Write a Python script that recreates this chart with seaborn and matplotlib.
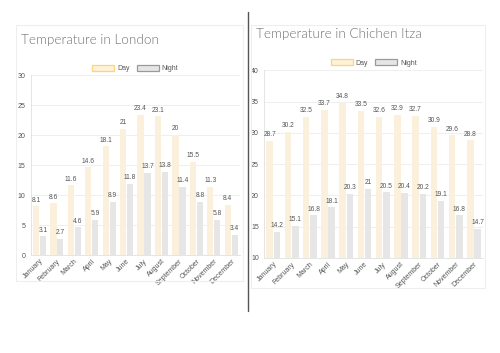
import numpy as np
import matplotlib
matplotlib.use("Agg")
import matplotlib.pyplot as plt
from matplotlib.patches import Patch, Rectangle
from matplotlib.lines import Line2D
import pandas as pd
import seaborn as sns

months = ["January", "February", "March", "April", "May", "June", "July",
          "August", "September", "October", "November", "December"]
london_day = [8.1, 8.6, 11.6, 14.6, 18.1, 21, 23.4, 23.1, 20, 15.5, 11.3, 8.4]
london_night = [3.1, 2.7, 4.6, 5.9, 8.9, 11.8, 13.7, 13.8, 11.4, 8.8, 5.8, 3.4]
chichen_day = [28.7, 30.2, 32.5, 33.7, 34.8, 33.5, 32.6, 32.9, 32.7, 30.9, 29.6, 28.8]
chichen_night = [14.2, 15.1, 16.8, 18.1, 20.3, 21, 20.5, 20.4, 20.2, 19.1, 16.8, 14.7]

day_fill = "#fff2d6"
night_fill = "#e6e6e6"
txt = "#555555"

sns.set_theme(style="white")
plt.rcParams["font.family"] = ["Liberation Sans", "DejaVu Sans"]

W, H = 500, 353
fig = plt.figure(figsize=(W / 100, H / 100), dpi=100)


def px_axes(x0, y0, x1, y1):
    return fig.add_axes([x0 / W, 1 - y1 / H, (x1 - x0) / W, (y1 - y0) / H])


def card(x0, y0, x1, y1):
    fig.patches.append(Rectangle((x0 / W, 1 - y1 / H), (x1 - x0) / W, (y1 - y0) / H,
                                 transform=fig.transFigure, fill=False,
                                 edgecolor="#eeeeee", linewidth=0.8, zorder=0))


def panel(box, title, title_xy, day, night, ymin, ymax, leg_y):
    ax = px_axes(*box)
    df = pd.DataFrame({
        "month": months * 2,
        "temp": day + night,
        "kind": ["Day"] * 12 + ["Night"] * 12,
    })
    sns.barplot(data=df, x="month", y="temp", hue="kind", order=months,
                palette={"Day": day_fill, "Night": night_fill},
                width=0.8, gap=0.1, ax=ax, legend=False, linewidth=0)
    for c in ax.containers:
        ax.bar_label(c, labels=[f"{v:g}" for v in c.datavalues],
                     fontsize=4.8, color=txt, padding=2)
    ax.set_ylim(ymin, ymax)
    ax.set_yticks(np.arange(ymin, ymax + 1, 5))
    ax.set_xlabel("")
    ax.set_ylabel("")
    ax.grid(axis="y", color="#ececec", linewidth=0.6)
    ax.set_axisbelow(True)
    for s in ["top", "right"]:
        ax.spines[s].set_visible(False)
    for s in ["left", "bottom"]:
        ax.spines[s].set_color("#e0e0e0")
        ax.spines[s].set_linewidth(0.6)
    ax.tick_params(axis="y", labelsize=5, labelcolor=txt, length=0, pad=4)
    ax.tick_params(axis="x", labelsize=5, labelcolor=txt, length=0, pad=2)
    plt.setp(ax.get_xticklabels(), rotation=45, ha="right", rotation_mode="anchor")
    handles = [Patch(facecolor=day_fill, edgecolor="#fdd47a", linewidth=0.9, label="Day"),
               Patch(facecolor=night_fill, edgecolor="#9a9a9a", linewidth=0.9, label="Night")]
    cx = (box[0] + box[2]) / 2
    fig.legend(handles=handles, loc="center", bbox_to_anchor=(cx / W, 1 - leg_y / H),
               ncol=2, frameon=False, fontsize=5, handlelength=3.2, handleheight=0.9,
               handletextpad=0.4, columnspacing=1.0, labelcolor=txt)
    fig.text(title_xy[0] / W, 1 - title_xy[1] / H, title, fontsize=9.7,
             color="#707070", family=["Lato", "DejaVu Sans"], fontweight=300,
             va="center", ha="left")
    return ax


card(16, 25, 243, 281)
card(251, 25, 485, 288)
fig.add_artist(Line2D([247.5 / W, 247.5 / W], [1 - 12 / H, 1 - 311 / H],
                      transform=fig.transFigure, color="#555555", linewidth=1.0))

panel((30.7, 75, 240, 255), "Temperature in London", (21, 40),
      london_day, london_night, 0, 30, 68.5)
panel((264.3, 70.3, 483, 258), "Temperature in Chichen Itza", (256, 34),
      chichen_day, chichen_night, 10, 40, 63)

fig.savefig("out.png", dpi=100, facecolor="white")
